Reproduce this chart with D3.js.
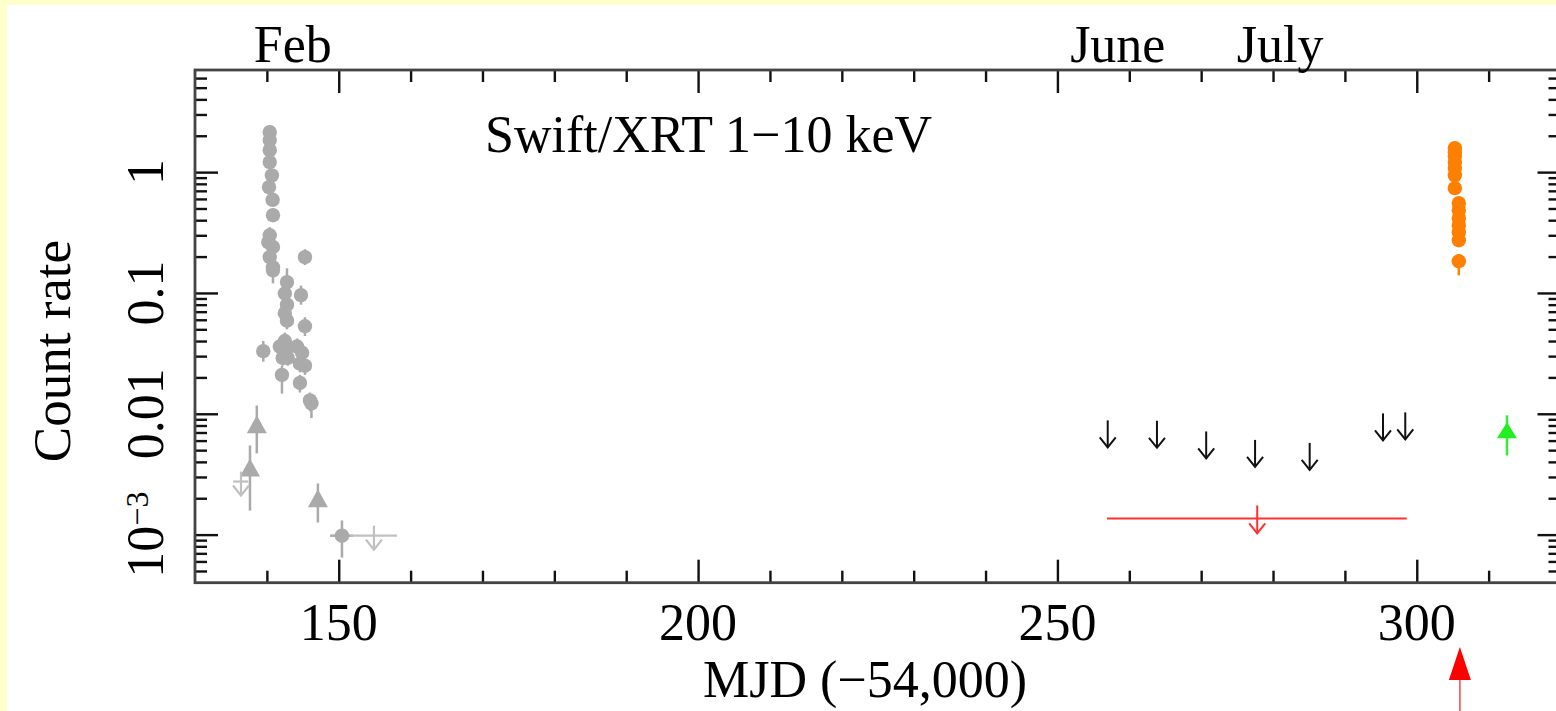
<!DOCTYPE html>
<html>
<head>
<meta charset="utf-8">
<script src="https://cdn.jsdelivr.net/npm/d3@7/dist/d3.min.js"></script>
<style>
  html, body { margin: 0; padding: 0; background: #ffffcc; overflow: hidden; }
  svg { display: block; }
  text { font-family: "Liberation Serif", "DejaVu Serif", serif; fill: #000; }
</style>
</head>
<body>
<svg id="chart" width="1556" height="711"></svg>
<script>
// Feb outburst, detections: [mjd, rate, lo, hi]
const febDots = [
  [140.4, 2.14, 1.95, 2.3], [140.4, 1.84, 1.7, 2.0], [140.4, 1.52, 1.4, 1.65],
  [140.4, 1.21, 1.1, 1.33], [140.7, 0.94, 0.85, 1.03], [140.3, 0.75, 0.68, 0.83],
  [140.8, 0.59, 0.53, 0.66], [140.85, 0.44, 0.39, 0.5], [140.4, 0.30, 0.25, 0.35],
  [140.2, 0.263, 0.23, 0.3], [140.85, 0.24, 0.21, 0.28], [140.4, 0.198, 0.17, 0.23],
  [140.85, 0.163, 0.14, 0.19], [140.85, 0.154, 0.12, 0.18],
  [142.8, 0.123, 0.105, 0.16], [142.5, 0.099, 0.085, 0.115], [142.8, 0.080, 0.07, 0.092],
  [142.5, 0.068, 0.058, 0.078], [142.8, 0.059, 0.05, 0.068], [142.5, 0.040, 0.034, 0.047],
  [142.8, 0.035, 0.03, 0.041], [142.2, 0.029, 0.025, 0.034], [142.1, 0.021, 0.0147, 0.025],
  [145.3, 0.198, 0.17, 0.23], [144.75, 0.096, 0.08, 0.115], [145.3, 0.053, 0.044, 0.063],
  [139.5, 0.033, 0.027, 0.04], [141.8, 0.036, 0.031, 0.042], [142.9, 0.029, 0.025, 0.034],
  [144.2, 0.036, 0.031, 0.042], [144.9, 0.032, 0.027, 0.037], [144.6, 0.026, 0.022, 0.03],
  [145.3, 0.025, 0.021, 0.029], [144.6, 0.018, 0.015, 0.021], [146.0, 0.0129, 0.0105, 0.015],
  [146.2, 0.0122, 0.0092, 0.0145]
];
// late Feb detection with time bin: [mjd, rate, lo, hi, mjdLo, mjdHi]
const febLate = [[150.45, 0.00098, 0.000646, 0.00131, 148.8, 152.0]];
// Feb triangles: [mjd, rate, lo, hi]
const febTri = [[138.6, 0.0082, 0.0047, 0.0117], [137.65, 0.0036, 0.00158, 0.00547], [147.1, 0.002, 0.00126, 0.00265]];
// Feb upper limits: [mjd, rate, mjdLo, mjdHi]
const febUL = [[136.4, 0.00275, 135.3, 137.4], [154.9, 0.00098, 151.6, 158.1]];

// summer upper limits
const ulMjd = [257.0, 263.85, 270.7, 277.5, 285.1, 295.3, 298.4];
const ulRate = [0.00682, 0.00677, 0.00552, 0.0047, 0.00444, 0.00779, 0.00794];
// stacked upper limit: [mjd, rate, mjdLo, mjdHi]
const stackUL = [[277.8, 0.00136, 256.9, 298.6]];

// new outburst: [mjd, rate, lo, hi]
const julDots = [
  [305.3, 1.58, 1.5, 1.66], [305.3, 1.46, 1.38, 1.54], [305.3, 1.36, 1.28, 1.44],
  [305.3, 1.21, 1.13, 1.29], [305.3, 1.08, 1.0, 1.16], [305.3, 0.94, 0.87, 1.01],
  [305.3, 0.737, 0.68, 0.8], [305.85, 0.553, 0.51, 0.6], [305.85, 0.484, 0.445, 0.525],
  [305.85, 0.416, 0.38, 0.455], [305.85, 0.364, 0.33, 0.4], [305.85, 0.318, 0.29, 0.35],
  [305.85, 0.273, 0.25, 0.3], [305.85, 0.183, 0.14, 0.21]
];
const greenTri = [[312.55, 0.0073, 0.00452, 0.0097]];
const markerMjd = [306.0];

const xMajor = [150, 200, 250, 300];
const xMinor = [140, 160, 170, 180, 190, 210, 220, 230, 240, 260, 270, 280, 290, 310];
const yMajor = [0.001, 0.01, 0.1, 1];
const monthNames = ["Feb", "June", "July"];
const monthMjd = [143.6, 258.4, 281.0];

const svg = d3.select('#chart');
svg.append('rect').attr('x', 7).attr('y', 5).attr('width', 1556).attr('height', 711).attr('fill', '#fff');

const x = d3.scaleLinear().domain([130, 320]).range([195, 1560.5]);
const y = d3.scaleLog().domain([4e-4, 7]).range([582.7, 70]);

// minor y ticks: 2..9 per decade inside the domain
let yMinor = [];
for (let e = -4; e <= 0; e++) {
  for (let m = 2; m <= 9; m++) {
    let v = m * Math.pow(10, e);
    if (v > 4e-4 && v < 7) yMinor.push(v);
  }
}

function styleAxis(g) {
  g.select('.domain').remove();
  g.selectAll('line').attr('stroke', '#111').attr('stroke-width', 2.4);
  g.selectAll('text').remove();
}

const axes = svg.append('g');
axes.append('g').attr('transform', 'translate(0,582.7)')
  .call(d3.axisBottom(x).tickValues(xMajor).tickSize(-23)).call(styleAxis);
axes.append('g').attr('transform', 'translate(0,582.7)')
  .call(d3.axisBottom(x).tickValues(xMinor).tickSize(-12)).call(styleAxis);
axes.append('g').attr('transform', 'translate(0,70)')
  .call(d3.axisTop(x).tickValues(xMajor).tickSize(-23)).call(styleAxis);
axes.append('g').attr('transform', 'translate(0,70)')
  .call(d3.axisTop(x).tickValues(xMinor).tickSize(-12)).call(styleAxis);
axes.append('g').attr('transform', 'translate(195,0)')
  .call(d3.axisLeft(y).tickValues(yMajor).tickSize(-23)).call(styleAxis);
axes.append('g').attr('transform', 'translate(195,0)')
  .call(d3.axisLeft(y).tickValues(yMinor).tickSize(-12)).call(styleAxis);
axes.append('g').attr('transform', 'translate(1560.5,0)')
  .call(d3.axisRight(y).tickValues(yMajor).tickSize(-23)).call(styleAxis);
axes.append('g').attr('transform', 'translate(1560.5,0)')
  .call(d3.axisRight(y).tickValues(yMinor).tickSize(-12)).call(styleAxis);

// frame
svg.append('rect')
  .attr('x', x(130)).attr('y', y(7))
  .attr('width', x(320) - x(130)).attr('height', y(4e-4) - y(7))
  .attr('fill', 'none').attr('stroke', '#444').attr('stroke-width', 2.8);

// x tick labels
svg.selectAll('.xlab').data(xMajor).enter().append('text')
  .attr('x', d => x(d)).attr('y', 640)
  .attr('text-anchor', 'middle').style('font-size', '52px')
  .text(d => d);

// y tick labels (rotated)
const ylab = svg.selectAll('.ylab').data(yMajor).enter().append('text')
  .attr('transform', d => `translate(163,${y(d)}) rotate(-90)`)
  .attr('text-anchor', 'middle').style('font-size', '52px');
ylab.filter(d => d >= 0.01).text(d => d);
ylab.filter(d => d < 0.01).each(function() {
  let t = d3.select(this);
  t.append('tspan').text('10');
  t.append('tspan').attr('dy', -15).style('font-size', '32px').text('\u22123');
});

// month labels
svg.selectAll('.month').data(monthNames).enter().append('text')
  .attr('x', (d, i) => x(monthMjd[i])).attr('y', 62)
  .attr('text-anchor', 'middle').style('font-size', '52px')
  .text(d => d);

// axis titles
svg.append('text').attr('x', 865).attr('y', 697)
  .attr('text-anchor', 'middle').style('font-size', '52px')
  .text('MJD (\u221254,000)');
svg.append('text').attr('transform', 'translate(70,351) rotate(-90)')
  .attr('text-anchor', 'middle').style('font-size', '53px')
  .text('Count rate');
svg.append('text').attr('x', 485).attr('y', 152)
  .style('font-size', '52px')
  .text('Swift/XRT 1\u221210 keV');

const plot = svg.append('g');

// helper: vertical error bars
function errBars(data, color) {
  plot.selectAll(null).data(data).enter().append('line')
    .attr('x1', d => x(d[0])).attr('x2', d => x(d[0]))
    .attr('y1', d => y(d[2])).attr('y2', d => y(d[3]))
    .attr('stroke', color).attr('stroke-width', 2.5);
}
function triPath(cx, cy, w, h) {
  return `M${cx - w / 2},${cy + h / 2}L${cx + w / 2},${cy + h / 2}L${cx},${cy - h / 2}Z`;
}
function downArrow(g, cx, cy, top, tip, color, width) {
  g.append('line').attr('x1', cx).attr('x2', cx).attr('y1', cy - top).attr('y2', cy + tip)
    .attr('stroke', color).attr('stroke-width', width);
  g.append('path').attr('d', `M${cx - 8},${cy + tip - 10}L${cx},${cy + tip}L${cx + 8},${cy + tip - 10}`)
    .attr('fill', 'none').attr('stroke', color).attr('stroke-width', width);
}

// Feb circles
errBars(febDots, '#aaaaaa');
plot.selectAll('.fdot').data(febDots).enter().append('circle')
  .attr('cx', d => x(d[0])).attr('cy', d => y(d[1])).attr('r', 7.2)
  .attr('fill', '#aaaaaa');

// Feb late detection with time bin
errBars(febLate, '#aaaaaa');
plot.selectAll(null).data(febLate).enter().append('line')
  .attr('x1', d => x(d[4])).attr('x2', d => x(d[5]))
  .attr('y1', d => y(d[1])).attr('y2', d => y(d[1]))
  .attr('stroke', '#aaaaaa').attr('stroke-width', 2.5);
plot.selectAll(null).data(febLate).enter().append('circle')
  .attr('cx', d => x(d[0])).attr('cy', d => y(d[1])).attr('r', 7.2)
  .attr('fill', '#aaaaaa');

// Feb triangles
errBars(febTri, '#aaaaaa');
plot.selectAll(null).data(febTri).enter().append('path')
  .attr('d', d => triPath(x(d[0]), y(d[1]), 20, 18))
  .attr('fill', '#aaaaaa');

// Feb upper limits (open arrows with time bin)
febUL.forEach(d => {
  const g = plot.append('g');
  g.append('line').attr('x1', x(d[2])).attr('x2', x(d[3]))
    .attr('y1', y(d[1])).attr('y2', y(d[1]))
    .attr('stroke', '#c0c0c0').attr('stroke-width', 2.2);
  downArrow(g, x(d[0]), y(d[1]), 10, 14, '#c0c0c0', 2.2);
});

// summer upper limits
ulMjd.forEach((m, i) => {
  downArrow(plot.append('g'), x(m), y(ulRate[i]), 13.5, 13.5, '#111', 2);
});

// stacked upper limit
stackUL.forEach(d => {
  const g = plot.append('g');
  g.append('line').attr('x1', x(d[2])).attr('x2', x(d[3]))
    .attr('y1', y(d[1])).attr('y2', y(d[1]))
    .attr('stroke', '#ff3030').attr('stroke-width', 2.2);
  downArrow(g, x(d[0]), y(d[1]), 13, 15, '#ff3030', 2);
});

// new outburst
errBars(julDots, '#ff8000');
plot.selectAll('.jdot').data(julDots).enter().append('circle')
  .attr('cx', d => x(d[0])).attr('cy', d => y(d[1])).attr('r', 7.2)
  .attr('fill', '#ff8000');

// green triangle
errBars(greenTri, '#33ee33');
plot.selectAll(null).data(greenTri).enter().append('path')
  .attr('d', d => triPath(x(d[0]), y(d[1]), 20, 16))
  .attr('fill', '#22ee22');

// red marker below the axis
markerMjd.forEach(m => {
  svg.append('line').attr('x1', x(m)).attr('x2', x(m)).attr('y1', 678).attr('y2', 711)
    .attr('stroke', '#ff5050').attr('stroke-width', 1.6);
  svg.append('path').attr('d', `M${x(m) - 11},680L${x(m) + 11},680L${x(m)},647Z`)
    .attr('fill', '#ff0000');
});
</script>
</body>
</html>
